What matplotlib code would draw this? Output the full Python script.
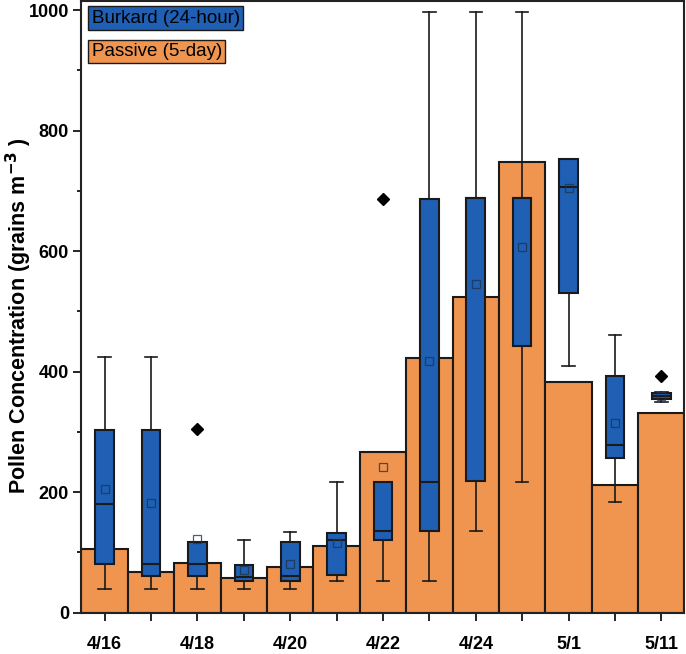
import numpy as np
import matplotlib
matplotlib.use("Agg")
import matplotlib.pyplot as plt
from matplotlib.ticker import MultipleLocator, FixedLocator

plt.rcParams['font.family'] = ['Liberation Sans', 'DejaVu Sans']

dates = ["4/16", "", "4/18", "", "4/20", "", "4/22", "", "4/24", "", "5/1", "", "5/11"]

# passive sampler (5-day) concentrations
passive = [106, 68, 82, 58, 76, 110, 267, 423, 523, 748, 383, 212, 332]

# Burkard (24-hour) box statistics
whislo = [39, 39, 39, 39, 39, 53, 52, 52, 135, 217, 410, 183, 350]
q1 = [81, 61, 61, 53, 53, 62, 121, 136, 218, 443, 530, 257, 354]
med = [180, 80, 80, 60, 61, 120, 136, 217, 688, 688, 707, 278, 360]
q3 = [303, 303, 118, 79, 118, 133, 216, 686, 688, 688, 752, 392, 365]
whishi = [425, 425, 118, 120, 134, 217, 216, 996, 996, 996, 752, 460, 366]
means = [206, 182, 122, 71, 81, 116, 242, 418, 545, 607, 705, 314, 360]
fliers = [[], [], [304], [], [], [], [686], [], [], [], [], [], [392]]

blue = "#1f5fb4"
orange = "#f09550"
edge = "#1a1a1a"

x = np.arange(len(dates))

fig = plt.figure(figsize=(6.86, 6.54), dpi=100)
ax = fig.add_axes([0.1188, 0.0632, 0.879, 0.9353])

ax.bar(x, passive, width=1.0, color=orange, edgecolor=edge, linewidth=1.5, zorder=1)

stats = []
for i in range(len(x)):
    stats.append(dict(whislo=whislo[i], q1=q1[i], med=med[i], q3=q3[i],
                      whishi=whishi[i], mean=means[i], fliers=fliers[i]))

ax.bxp(stats, positions=x, widths=0.4, capwidths=0.27, patch_artist=True,
       showmeans=True, manage_ticks=False,
       boxprops=dict(facecolor=blue, edgecolor=edge, linewidth=1.5),
       medianprops=dict(color=edge, linewidth=1.5),
       whiskerprops=dict(color=edge, linewidth=1.2),
       capprops=dict(color=edge, linewidth=1.2),
       meanprops=dict(marker='s', markerfacecolor='none', markeredgecolor='#203550',
                      markersize=6, markeredgewidth=0.9, alpha=0.8),
       flierprops=dict(marker='D', markerfacecolor='black', markeredgecolor='black',
                       markersize=6))

ax.set_xlim(-0.5, 12.5)
ax.set_ylim(0, 1015)

ax.xaxis.set_major_locator(FixedLocator(x[::2]))
ax.xaxis.set_minor_locator(FixedLocator(x[1::2]))
ax.set_xticklabels(dates[::2])
ax.yaxis.set_major_locator(MultipleLocator(200))
ax.yaxis.set_minor_locator(MultipleLocator(100))

ax.tick_params(axis='x', which='both', length=5.5, width=1.2, pad=11, labelsize=13)
ax.tick_params(axis='y', which='major', length=6, width=1.2, pad=3, labelsize=13)
ax.tick_params(axis='y', which='minor', length=3, width=1.2)
for lab in ax.get_xticklabels() + ax.get_yticklabels():
    lab.set_fontweight('bold')

for sp in ax.spines.values():
    sp.set_linewidth(1.5)
    sp.set_color("#222222")

ax.set_ylabel("Pollen Concentration (grains m$^{\\mathbf{-3}}$ )", fontsize=15.5,
              fontweight='bold')
ax.yaxis.set_label_coords(-0.079, 0.486)

ax.text(0.0168, 0.972, "Burkard (24-hour)", transform=ax.transAxes, fontsize=13.5,
        va='center', ha='left',
        bbox=dict(boxstyle='square,pad=0.18', facecolor=blue, edgecolor=edge, linewidth=1.0))
ax.text(0.0168, 0.9175, "Passive (5-day)", transform=ax.transAxes, fontsize=13.5,
        va='center', ha='left',
        bbox=dict(boxstyle='square,pad=0.18', facecolor=orange, edgecolor=edge, linewidth=1.0))

fig.savefig("out.png", dpi=100)
